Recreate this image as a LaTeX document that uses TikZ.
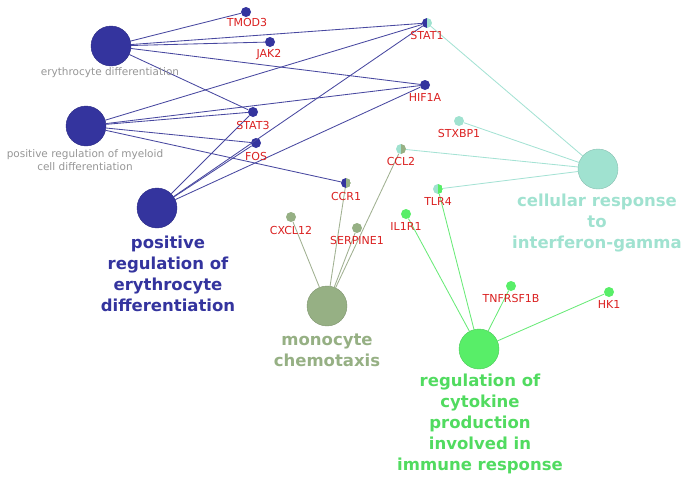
\documentclass[tikz,border=0pt]{standalone}
\usepackage{fontspec}
\setmainfont{DejaVu Sans}
\definecolor{cblue}{RGB}{52,52,158}
\definecolor{cteal}{RGB}{160,226,208}
\definecolor{colive}{RGB}{150,176,132}
\definecolor{cgreen}{RGB}{88,238,104}
\definecolor{cred}{RGB}{218,32,32}
\definecolor{cgray}{RGB}{150,150,150}
\definecolor{eblue}{RGB}{72,72,160}
\definecolor{eteal}{RGB}{165,226,212}
\definecolor{eolive}{RGB}{160,176,145}
\definecolor{egreen}{RGB}{105,234,120}
\tikzset{
  big/.style={circle, minimum size=40pt, inner sep=0pt, fill=#1, draw=#1!85!black, line width=0.4pt},
  gene/.style={circle, minimum size=10pt, inner sep=0pt, fill=#1},
  half/.style 2 args={circle, minimum size=10pt, inner sep=0pt,
    path picture={\fill[#1] (path picture bounding box.south west) rectangle (path picture bounding box.north);
                  \fill[#2] (path picture bounding box.south) rectangle (path picture bounding box.north east);}},
  glabel/.style={font=\fontsize{11}{13}\selectfont, text=cred, inner sep=0pt},
  smalllabel/.style={font=\fontsize{10.5}{13}\selectfont, text=cgray, align=center, inner sep=0pt},
  biglabel/.style={font=\fontsize{16.5}{21}\selectfont\bfseries, text=#1, align=center, inner sep=0pt},
  edge/.style={draw=#1, line width=0.85pt},
}
\begin{document}
\begin{tikzpicture}[x=1pt,y=-1pt]
\useasboundingbox (0,0) rectangle (685,485);
% big nodes
\node[big=cblue] (ED) at (111,46) {};
\node[big=cblue] (PRM) at (86,126) {};
\node[big=cblue] (PRE) at (157,208) {};
\node[big=colive] (MC) at (327,306) {};
\node[big=cgreen] (RC) at (479,349) {};
\node[big=cteal] (CR) at (598,169) {};
% genes
\node[gene=cblue] (TMOD3) at (246,12) {};
\node[gene=cblue] (JAK2) at (270,42) {};
\node[half={cblue}{cteal}] (STAT1) at (427,23) {};
\node[gene=cblue] (HIF1A) at (425,85) {};
\node[gene=cblue] (STAT3) at (253,112) {};
\node[gene=cblue] (FOS) at (256,143) {};
\node[gene=cteal] (STXBP1) at (459,121) {};
\node[half={cteal}{colive}] (CCL2) at (401,149) {};
\node[half={cblue}{colive}] (CCR1) at (346,183) {};
\node[half={cteal}{cgreen}] (TLR4) at (438,189) {};
\node[gene=cgreen] (IL1R1) at (406,214) {};
\node[gene=colive] (CXCL12) at (291,217) {};
\node[gene=colive] (SERPINE1) at (357,228) {};
\node[gene=cgreen] (TNFRSF1B) at (511,286) {};
\node[gene=cgreen] (HK1) at (609,292) {};
% edges
\foreach \g in {TMOD3,JAK2,STAT1,HIF1A,STAT3} \draw[edge=eblue] (ED) -- (\g);
\foreach \g in {STAT1,HIF1A,STAT3,FOS,CCR1} \draw[edge=eblue] (PRM) -- (\g);
\foreach \g in {STAT1,HIF1A,STAT3,FOS} \draw[edge=eblue] (PRE) -- (\g);
\foreach \g in {STAT1,STXBP1,CCL2,TLR4} \draw[edge=eteal] (CR) -- (\g);
\foreach \g in {CXCL12,CCR1,SERPINE1,CCL2} \draw[edge=eolive] (MC) -- (\g);
\foreach \g in {IL1R1,TLR4,TNFRSF1B,HK1} \draw[edge=egreen] (RC) -- (\g);
% gene labels
\node[glabel] (lTMOD3) at (247,22) {TMOD3};
\node[glabel] (lJAK2) at (269,55) {JAK2};
\node[glabel] (lSTAT1) at (427,35) {STAT1};
\node[glabel] (lHIF1A) at (425,97) {HIF1A};
\node[glabel] (lSTAT3) at (253,125) {STAT3};
\node[glabel] (lFOS) at (256,156) {FOS};
\node[glabel] (lSTXBP1) at (459,133) {STXBP1};
\node[glabel] (lCCL2) at (401,161) {CCL2};
\node[glabel] (lCCR1) at (346,196) {CCR1};
\node[glabel] (lTLR4) at (438,201) {TLR4};
\node[glabel] (lIL1R1) at (406,226) {IL1R1};
\node[glabel] (lCXCL12) at (291,230) {CXCL12};
\node[glabel] (lSERPINE1) at (357,240) {SERPINE1};
\node[glabel] (lTNFRSF1B) at (511,298) {TNFRSF1B};
\node[glabel] (lHK1) at (609,304) {HK1};
% cluster labels
\node[smalllabel] (lED) at (110,73) {erythrocyte differentiation};
\node[smalllabel] (lPRM) at (85,160) {positive regulation of myeloid\\cell differentiation};
\node[biglabel=cblue] (lPRE) at (168,274) {positive\\regulation of\\erythrocyte\\differentiation};
\node[biglabel=colive] (lMC) at (327,350) {monocyte\\chemotaxis};
\node[biglabel={cgreen!92!black}] (lRC) at (480,424) {regulation of\\cytokine\\production\\involved in\\immune response};
\node[biglabel=cteal] (lCR) at (597,223) {cellular response\\to\\interferon-gamma};
\end{tikzpicture}
\end{document}
